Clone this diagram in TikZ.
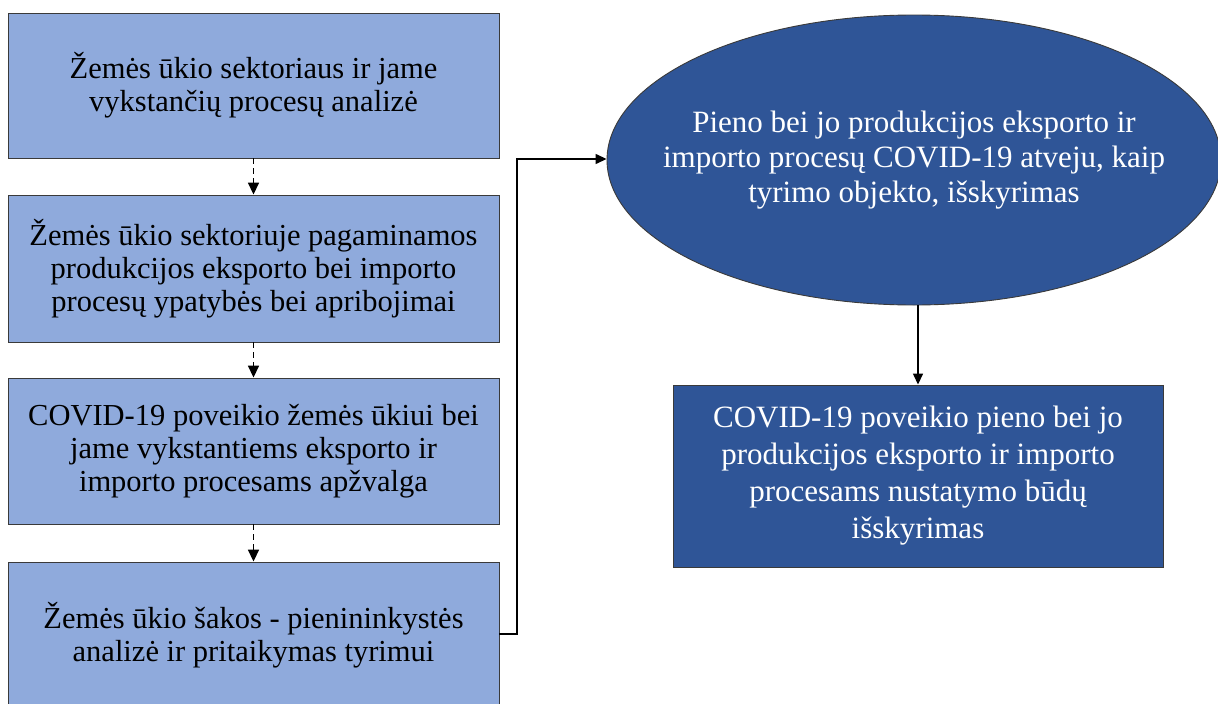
\documentclass[tikz,border=0pt]{standalone}
\usepackage{fontspec}
\setmainfont{Liberation Serif}
\usetikzlibrary{arrows.meta,shapes.geometric}
\definecolor{lightbox}{HTML}{8FAADC}
\definecolor{darkbox}{HTML}{2F5597}
\definecolor{edge}{HTML}{3A3A3A}
\tikzset{
  lbox/.style={draw=edge, line width=0.9pt, fill=lightbox, minimum width=491pt, inner sep=0pt, align=center, font=\fontsize{30.5}{33}\selectfont, text=black},
  dbox/.style={draw=edge, line width=0.9pt, fill=darkbox, minimum width=490pt, minimum height=182pt, inner sep=0pt, align=center, font=\fontsize{31}{37}\selectfont, text=white},
  dell/.style={ellipse, draw=edge, line width=0.9pt, fill=darkbox, minimum width=614pt, minimum height=290pt, inner sep=0pt},
  elltext/.style={inner sep=0pt, align=center, font=\fontsize{31}{35}\selectfont, text=white},
  dasharr/.style={draw=black, line width=1.7pt, dash pattern=on 6pt off 4pt, -{Triangle[width=11pt,length=12pt]}},
  solidarr/.style={draw=black, line width=1.4pt, -{Triangle[width=10pt,length=11pt]}}
}
\begin{document}
\begin{tikzpicture}[x=1pt,y=-1pt]
\useasboundingbox (0,0) rectangle (1218,704);
\clip (0,0) rectangle (1218,704);
\fill[white] (0,0) rectangle (1218,704);
\node[lbox, minimum height=145pt] (b1) at (253.5,85.5) {Žemės ūkio sektoriaus ir jame\\vykstančių procesų analizė};
\node[lbox, minimum height=147pt] (b2) at (253.5,268.5) {Žemės ūkio sektoriuje pagaminamos\\produkcijos eksporto bei importo\\procesų ypatybės bei apribojimai};
\node[lbox, minimum height=146pt] (b3) at (253.5,451) {COVID-19 poveikio žemės ūkiui bei\\jame vykstantiems eksporto ir\\importo procesams apžvalga};
\node[lbox, minimum height=146pt] (b4) at (253.5,635) {Žemės ūkio šakos - pienininkystės\\analizė ir pritaikymas tyrimui};
\node[dell] (e1) at (914,160) {};
\node[elltext] (e1t) at (e1.center) {Pieno bei jo produkcijos eksporto ir\\importo procesų COVID-19 atveju, kaip\\tyrimo objekto, išskyrimas};
\node[dbox] (b5) at (918,476) {COVID-19 poveikio pieno bei jo\\produkcijos eksporto ir importo\\procesams nustatymo būdų\\išskyrimas};
\draw[dasharr] (b1.south) -- (b2.north);
\draw[dasharr] (b2.south) -- (b3.north);
\draw[dasharr] (b3.south) -- (b4.north);
\coordinate (k1) at (517,634);
\coordinate (k2) at (517,159);
\draw[solidarr] (b4.east |- k1) -- (k1) -- (k2) -- (e1.west |- k2);
\draw[solidarr] (e1.south -| b5.north) -- (b5.north);
\end{tikzpicture}
\end{document}
